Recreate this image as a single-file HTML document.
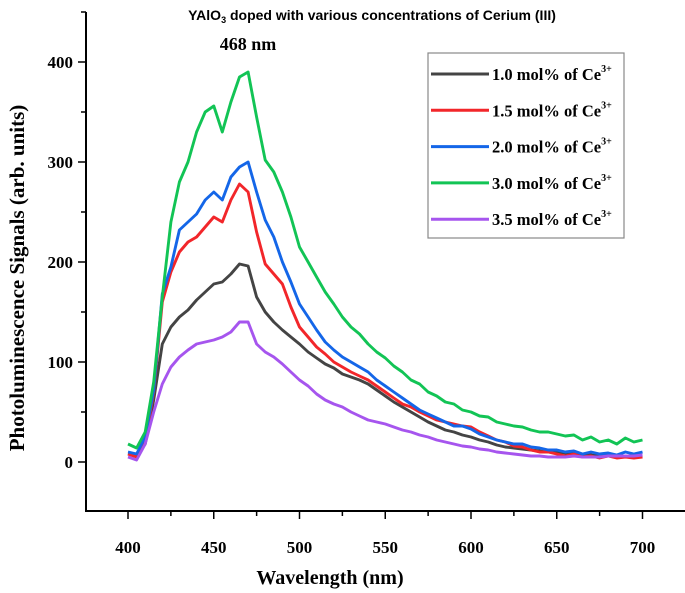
<!DOCTYPE html>
<html><head><meta charset="utf-8"><style>
html,body{margin:0;padding:0;background:#fff;}
svg{display:block;}
.serif{font-family:"Liberation Serif",serif;}
</style></head><body>
<svg id="chart" width="685" height="593" viewBox="0 0 685 593">
<text x="372" y="20" text-anchor="middle" font-family="Liberation Sans, sans-serif" font-weight="bold" font-size="14">YAlO<tspan font-size="9" dy="3">3</tspan><tspan dy="-3"> doped with various concentrations of Cerium (III)</tspan></text>
<text x="248" y="50" text-anchor="middle" class="serif" font-weight="bold" font-size="18">468 nm</text>
<g id="axes"></g>
<g id="series"></g>
<text x="330" y="584" text-anchor="middle" class="serif" font-weight="bold" font-size="20">Wavelength (nm)</text>
<text transform="translate(24,278) rotate(-90)" text-anchor="middle" class="serif" font-weight="bold" font-size="21">Photoluminescence Signals (arb. units)</text>
<g id="legend"></g>
</svg>
<script>
const wavelengths = [];
for (let w = 400; w <= 700; w += 5) wavelengths.push(w);
const labels = ["1.0 mol% of Ce","1.5 mol% of Ce","2.0 mol% of Ce","3.0 mol% of Ce","3.5 mol% of Ce"];
const colors = ["#444444","#f2262a","#1466e8","#12c455","#a655ee"];
const s10 = [8,6,18,62,118,135,145,152,162,170,178,180,188,198,196,165,150,140,132,125,118,110,104,98,94,88,85,82,78,72,66,60,55,50,45,40,36,32,30,27,25,22,20,17,15,14,13,12,11,10,10,9,8,8,7,6,6,6,5,5,5];
const s15 = [8,5,20,70,160,190,210,220,225,235,245,240,262,278,270,230,198,188,178,155,135,125,115,108,100,95,90,86,82,76,70,64,58,55,50,46,42,40,38,36,35,30,26,22,20,16,15,12,10,10,8,6,8,5,6,4,6,4,5,4,5];
const s20 = [10,8,25,72,168,195,232,240,248,262,270,262,285,295,300,270,242,225,200,180,158,145,132,120,112,105,100,95,90,82,76,70,64,58,52,48,44,40,36,36,33,28,25,22,20,18,18,15,14,12,12,10,11,8,10,8,9,7,10,8,10];
const s30 = [18,14,30,80,165,240,280,300,330,350,356,330,360,385,390,345,302,290,270,245,215,200,185,170,158,145,135,128,118,110,104,96,90,82,78,70,66,60,58,52,50,46,45,40,38,36,35,32,30,30,28,26,27,22,25,20,22,18,24,20,22];
const s35 = [5,2,18,50,78,95,105,112,118,120,122,125,130,140,140,118,110,105,98,90,82,76,68,62,58,55,50,46,42,40,38,35,32,30,27,25,22,20,18,16,15,13,12,10,9,8,7,6,6,5,5,5,6,5,5,5,6,6,6,6,7];
const seriesData = [s10, s15, s20, s30, s35];
const xTicks = [400,450,500,550,600,650,700];
const yTicks = [0,100,200,300,400];

const NS = "http://www.w3.org/2000/svg";
const X = w => 128 + (w - 400) * 1.715;
const Y = v => 462 - v * 1.0;
function mk(tag, attrs, parent){ const e=document.createElementNS(NS,tag); for(const k in attrs) e.setAttribute(k,attrs[k]); parent.appendChild(e); return e; }

const axes = document.getElementById('axes');
const xl = mk('line',{x1:86,y1:511,x2:685,y2:511,stroke:'#000','stroke-width':2},axes);


const yl = mk('line',{x1:86,y1:12,x2:86,y2:512,stroke:'#000','stroke-width':2},axes);


for (let w = 375; w <= 725; w += 25) {
  const x = X(w); if (x < 86 || x > 684) continue;
  const major = (w % 50 === 0);
  const t = mk('line',{x1:x,y1:511,x2:x,y2:major?519:516,stroke:'#000','stroke-width':1.5},axes);
  
  
}
xTicks.forEach(w => {
  const t = mk('text',{x:X(w),y:553,'text-anchor':'middle','font-family':'Liberation Serif, serif','font-weight':'bold','font-size':17},axes);
  t.textContent = w;
  
  
});
for (let v = -50; v <= 450; v += 50) {
  const y = Y(v); if (y < 12 || y > 511) continue;
  const major = (v % 100 === 0);
  const t = mk('line',{x1:major?78:81,y1:y,x2:86,y2:y,stroke:'#000','stroke-width':1.5},axes);
  
  
}
yTicks.forEach(v => {
  const t = mk('text',{x:73,y:Y(v)+6,'text-anchor':'end','font-family':'Liberation Serif, serif','font-weight':'bold','font-size':17},axes);
  t.textContent = v;
  
  
});

const sg = document.getElementById('series');
seriesData.forEach((arr, i) => {
  const d = arr.map((v, j) => (j ? 'L' : 'M') + X(wavelengths[j]).toFixed(1) + ' ' + Y(v).toFixed(1)).join(' ');
  const p = mk('path',{d:d,fill:'none',stroke:colors[i],'stroke-width':2.9,'stroke-linejoin':'round'},sg);
  
  
});

const lg = document.getElementById('legend');
const box = mk('rect',{x:428,y:53,width:196,height:185,fill:'#fff',stroke:'#888','stroke-width':1.2},lg);


labels.forEach((lab, i) => {
  const y = 74 + i * 36.3;
  const l = mk('line',{x1:431,y1:y,x2:489,y2:y,stroke:colors[i],'stroke-width':3},lg);
  
  
  const t = mk('text',{x:492,y:y+6,'font-family':'Liberation Serif, serif','font-weight':'bold','font-size':16.5},lg);
  t.textContent = lab;
  const sup = mk('tspan',{dy:-8,'font-size':10},t);
  sup.textContent = '3+';
  
  
});
</script>
</body></html>
